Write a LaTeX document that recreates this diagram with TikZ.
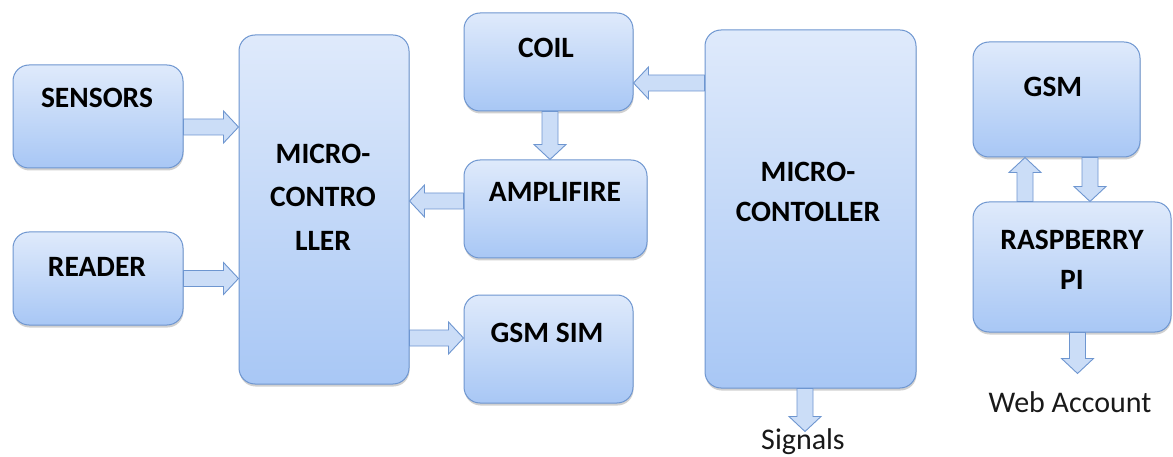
\documentclass[tikz,border=0pt]{standalone}
\usepackage{fontspec}
\setmainfont{Carlito}
\usetikzlibrary{calc,shadows}
\definecolor{boxtop}{RGB}{223,234,251}
\definecolor{boxbot}{RGB}{168,199,245}
\definecolor{boxline}{RGB}{110,150,208}
\definecolor{arrfill}{RGB}{203,221,247}
\definecolor{arrline}{RGB}{110,150,208}
\begin{document}
\begin{tikzpicture}[x=1pt,y=-1pt,
  box/.style={draw=boxline, line width=1pt, rounded corners=16pt,
    top color=boxtop, bottom color=boxbot, inner sep=0pt,
    drop shadow={shadow xshift=0.5pt, shadow yshift=-2.5pt, opacity=0.3, fill=black!60}},
  lbl/.style={font=\bfseries\fontsize{29.5}{43.5}\selectfont, align=center, inner sep=0pt, text=black},
  plain/.style={font=\fontsize{30}{34}\selectfont, inner sep=0pt, text=black!90},
  blockarrow/.style={draw=arrline, fill=arrfill, line width=0.9pt, line join=miter,
    to path={let \p1=(\tikztostart), \p2=(\tikztotarget),
      \n1={veclen(\x2-\x1,\y2-\y1)}, \n2={atan2(\y2-\y1,\x2-\x1)} in
      ([shift={(\p1)},rotate=\n2]0pt,8pt)
      -- ([shift={(\p1)},rotate=\n2]{\n1-15pt},8pt)
      -- ([shift={(\p1)},rotate=\n2]{\n1-15pt},16pt)
      -- ([shift={(\p1)},rotate=\n2]{\n1+0pt},0pt)
      -- ([shift={(\p1)},rotate=\n2]{\n1-15pt},-16pt)
      -- ([shift={(\p1)},rotate=\n2]{\n1-15pt},-8pt)
      -- ([shift={(\p1)},rotate=\n2]0pt,-8pt) -- cycle}}
]
\useasboundingbox[fill=white] (0,0) rectangle (1173,457);

% boxes
\node[box, minimum width=170pt, minimum height=103pt] (sensors) at (98,116.5) {};
\node[box, minimum width=170pt, minimum height=93pt]  (reader)  at (98,278.5) {};
\node[box, minimum width=170pt, minimum height=349pt] (mca)     at (324,209.5) {};
\node[box, minimum width=169pt, minimum height=98pt]  (coil)    at (548.5,62) {};
\node[box, minimum width=183pt, minimum height=98pt]  (amp)     at (555.5,209) {};
\node[box, minimum width=169pt, minimum height=108pt] (gsmsim)  at (548.5,349) {};
\node[box, minimum width=211pt, minimum height=358pt] (mcb)     at (810.5,209) {};
\node[box, minimum width=167pt, minimum height=115pt] (gsm)     at (1056.5,99.5) {};
\node[box, minimum width=198pt, minimum height=130pt] (rpi)     at (1072,267) {};

% labels
\node[lbl] (tsensors) at (97,98) {SENSORS};
\node[lbl] (treader)  at (97,267) {READER};
\node[lbl] (tmca)     at (323,197) {MICRO-\\CONTRO\\LLER};
\node[lbl] (tcoil)    at (546,48) {COIL};
\node[lbl] (tamp)     at (555,192) {AMPLIFIRE};
\node[lbl] (tgsmsim)  at (547,333) {GSM SIM};
\node[lbl, font=\bfseries\fontsize{29.5}{40}\selectfont] (tmcb) at (808,192) {MICRO-\\CONTOLLER};
\node[lbl] (tgsm)     at (1053,87) {GSM};
\node[lbl, font=\bfseries\fontsize{29.5}{40}\selectfont] (trpi) at (1072,260) {RASPBERRY\\PI};
\node[plain, anchor=base] (signals) at (803,449.5) {Signals};
\node[plain, anchor=base] (web) at (1070,412) {Web Account};

% connector anchors
\coordinate (s1) at ([yshift=-10.5pt]sensors.east);
\coordinate (a1) at ([yshift=8pt]amp.west);
\coordinate (g1) at ([yshift=11pt]gsmsim.west);
\coordinate (c0) at ([xshift=1.5pt]coil.south);
\coordinate (c1) at ([yshift=-21pt]coil.east);
\coordinate (m1) at ([xshift=-5.5pt]mcb.south);
\coordinate (m2) at ([yshift=-43pt]m1);
\coordinate (u1) at ([xshift=-47pt]rpi.north);
\coordinate (d1) at ([xshift=33.5pt]gsm.south);
\coordinate (r1) at ([xshift=5.5pt]rpi.south);
\coordinate (r2) at ([yshift=-41pt]r1);

% block arrows
\path[blockarrow] (s1) to (s1 -| mca.west);
\path[blockarrow] (reader.east) to (reader.east -| mca.west);
\path[blockarrow] (a1) to (a1 -| mca.east);
\path[blockarrow] (g1 -| mca.east) to (g1);
\path[blockarrow] (c0) to (c0 |- amp.north);
\path[blockarrow] (c1 -| mcb.west) to (c1);
\path[blockarrow] (m1) to (m2);
\path[blockarrow] (u1) to (u1 |- gsm.south);
\path[blockarrow] (d1) to (d1 |- rpi.north);
\path[blockarrow] (r1) to (r2);
\end{tikzpicture}
\end{document}
